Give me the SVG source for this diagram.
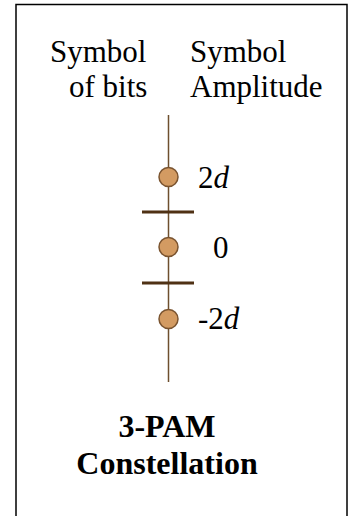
<svg xmlns="http://www.w3.org/2000/svg" width="361" height="516" viewBox="0 0 361 516">
<style>
.t{font-family:"Liberation Serif","Times New Roman",serif;font-size:31px;fill:#000}
.b{font-family:"Liberation Serif","Times New Roman",serif;font-size:32px;font-weight:bold;fill:#000}
.pt{fill:#d39b62;stroke:#7a5430;stroke-width:1.5}
.tick{stroke:#4f3114;stroke-width:3}
.axis{stroke:#6e4f2e;stroke-width:1.5}
</style>
<rect x="16" y="4.5" width="331" height="520" fill="#fff" stroke="#000" stroke-width="1.5"/>
<g id="headers">
<text class="t" x="50" y="62">Symbol</text>
<text class="t" x="69" y="97">of bits</text>
<text class="t" x="190" y="62">Symbol</text>
<text class="t" x="190" y="97">Amplitude</text>
</g>
<g id="connectors">
<line class="axis" x1="168.5" y1="115" x2="168.5" y2="382"/>
<line class="tick" x1="142" y1="212" x2="194" y2="212"/>
<line class="tick" x1="142" y1="283" x2="194" y2="283"/>
</g>
<g id="p_2d"><circle class="pt" cx="168.5" cy="177" r="9.5"/><text class="t" x="198" y="188">2<tspan font-style="italic">d</tspan></text></g>
<g id="p_0"><circle class="pt" cx="168.5" cy="247" r="9.5"/><text class="t" x="213" y="258">0</text></g>
<g id="p_m2d"><circle class="pt" cx="168.5" cy="319" r="9.5"/><text class="t" x="198" y="329">-2<tspan font-style="italic">d</tspan></text></g>
<g id="title">
<text class="b" x="167" y="437" text-anchor="middle">3-PAM</text>
<text class="b" x="167" y="474" text-anchor="middle">Constellation</text>
</g>
</svg>
